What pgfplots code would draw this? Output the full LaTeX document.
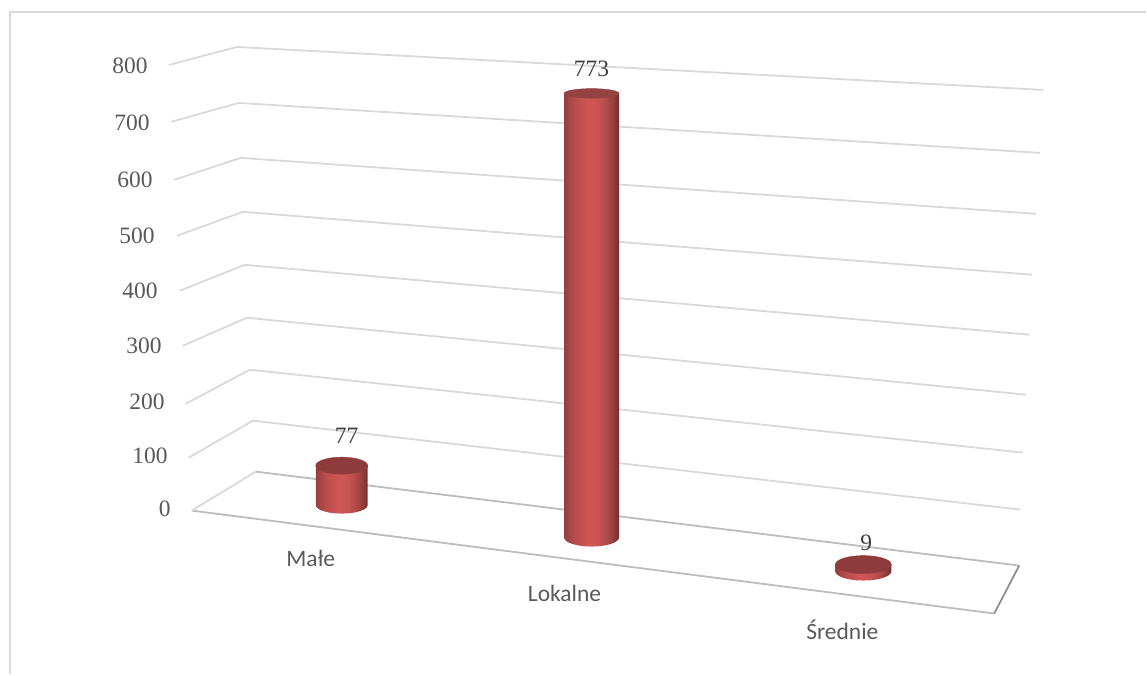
\documentclass[border=0pt]{standalone}
\usepackage{pgfplots}
\usepackage{fontspec}
\pgfplotsset{compat=1.18}
\setmainfont{Liberation Serif}
\newfontfamily\catfont{Carlito}
\definecolor{grid}{HTML}{D9D9D9}
\definecolor{floorc}{HTML}{BDBDBD}
\definecolor{sidec}{HTML}{8F8F8F}
\definecolor{axt}{HTML}{595959}
\definecolor{lab}{HTML}{404040}
\definecolor{capa}{HTML}{8F3B3B}
\definecolor{capb}{HTML}{954242}
\pgfdeclarehorizontalshading{cyl}{100bp}{
 rgb(0bp)=(0.588,0.247,0.247);
 rgb(25bp)=(0.588,0.247,0.247);
 rgb(35bp)=(0.725,0.302,0.302);
 rgb(47.5bp)=(0.816,0.337,0.337);
 rgb(57.5bp)=(0.776,0.322,0.322);
 rgb(67.5bp)=(0.627,0.263,0.263);
 rgb(75bp)=(0.447,0.184,0.184);
 rgb(100bp)=(0.447,0.184,0.184)}
\pgfplotstableread{
x y label
148 66 800
150 123 700
153 180 600
155 236 500
158 291 400
162 346 300
165 402 200
168 456 100
171 509 0
}\ticktable
\pgfplotstableread{
x y value
347 436 77
592 69 773
867 543 9
}\valtable
\pgfplotstableread{
x y name
311 559 Małe
565 594 Lokalne
843 630 Średnie
}\cattable
\begin{document}
\begin{tikzpicture}
\begin{axis}[
  scale only axis, width=1147pt, height=675pt,
  xmin=0, xmax=1147, ymin=0, ymax=675, y dir=reverse,
  hide axis, clip=false,
  every axis plot/.append style={line join=round},
  grid line/.style={draw=grid, line width=1.8pt, mark=none, forget plot},
]
% picture extent
\addplot[draw=none, mark=none, forget plot] coordinates {(0,0)(1147,675)};
% frame
\addplot[grid line] coordinates {(10,675)(10,12)(1147,12)};
% walls
\addplot[grid line] coordinates {(169,65)(237,47)(1044,90)};
\addplot[grid line] coordinates {(171,122)(239,103)(1041,153)};
\addplot[grid line] coordinates {(174,180)(241,158)(1037,214)};
\addplot[grid line] coordinates {(177,236)(243,212)(1033,275)};
\addplot[grid line] coordinates {(180,291)(245,265)(1030,335)};
\addplot[grid line] coordinates {(183,346)(247,318)(1027,395)};
\addplot[grid line] coordinates {(186,404)(250,370)(1024,453)};
\addplot[grid line] coordinates {(189,458)(253,421)(1021,510)};
% floor
\addplot[grid line, draw=floorc] coordinates {(256,472)(1020,566)};
\addplot[grid line, draw=floorc] coordinates {(192,511)(995,614)};
\addplot[grid line] coordinates {(192,511)(256,472)};
\addplot[grid line, draw=sidec] coordinates {(1020,566)(995,614)};
% cylinders: sides
\addplot[draw=none, shading=cyl, forget plot] coordinates {(316,466)(368,466)(368,505.5)(367.1,507.7)(364.5,509.75)(360.4,511.5)(355,512.9)(348.7,513.7)(342,514)(335.3,513.7)(329,512.9)(323.6,511.5)(319.5,509.75)(316.9,507.7)(316,505.5)} -- cycle;
\addplot[draw=none, shading=cyl, forget plot] coordinates {(564.5,93.5)(619.5,93.5)(619.5,538)(618.6,540.3)(615.8,542.5)(611.4,544.4)(605.75,545.8)(599.1,546.7)(592,547)(584.9,546.7)(578.25,545.8)(572.6,544.4)(568.2,542.5)(565.4,540.3)(564.5,538)} -- cycle;
\addplot[draw=none, shading=cyl, forget plot] coordinates {(836,565)(892,565)(892,572)(891,574.3)(888.2,576.5)(883.8,578.4)(878,579.8)(871.3,580.7)(864,581)(856.7,580.7)(850,579.8)(844.2,578.4)(839.8,576.5)(837,574.3)(836,572)} -- cycle;
% cylinders: caps
\addplot[only marks, mark=*, mark size=26pt, mark options={draw=capa, fill=capa, yscale=0.327}, forget plot] coordinates {(342,466)};
\addplot[only marks, mark=*, mark size=27.5pt, mark options={draw=capb, fill=capb, yscale=0.175}, forget plot] coordinates {(592,93.5)};
\addplot[only marks, mark=*, mark size=28pt, mark options={draw=capa, fill=capa, yscale=0.32}, forget plot] coordinates {(864,565)};
% value labels
\addplot[only marks, mark=none, point meta=explicit symbolic, forget plot,
  nodes near coords={\pgfplotspointmeta},
  nodes near coords align={anchor=center},
  every node near coord/.append style={font=\fontsize{23.5}{23.5}\selectfont, text=lab, inner sep=0pt}]
  table[x=x, y=y, meta=value] {\valtable};
% tick labels
\addplot[only marks, mark=none, point meta=explicit symbolic, forget plot,
  nodes near coords={\pgfplotspointmeta},
  nodes near coords align={anchor=east},
  every node near coord/.append style={font=\fontsize{23.5}{23.5}\selectfont, text=axt, inner sep=0pt}]
  table[x=x, y=y, meta=label] {\ticktable};
% category labels
\addplot[only marks, mark=none, point meta=explicit symbolic, forget plot,
  nodes near coords={\pgfplotspointmeta},
  nodes near coords align={anchor=center},
  every node near coord/.append style={font=\catfont\fontsize{23.5}{23.5}\selectfont, text=axt, inner sep=0pt}]
  table[x=x, y=y, meta=name] {\cattable};
\end{axis}
\end{tikzpicture}
\end{document}
